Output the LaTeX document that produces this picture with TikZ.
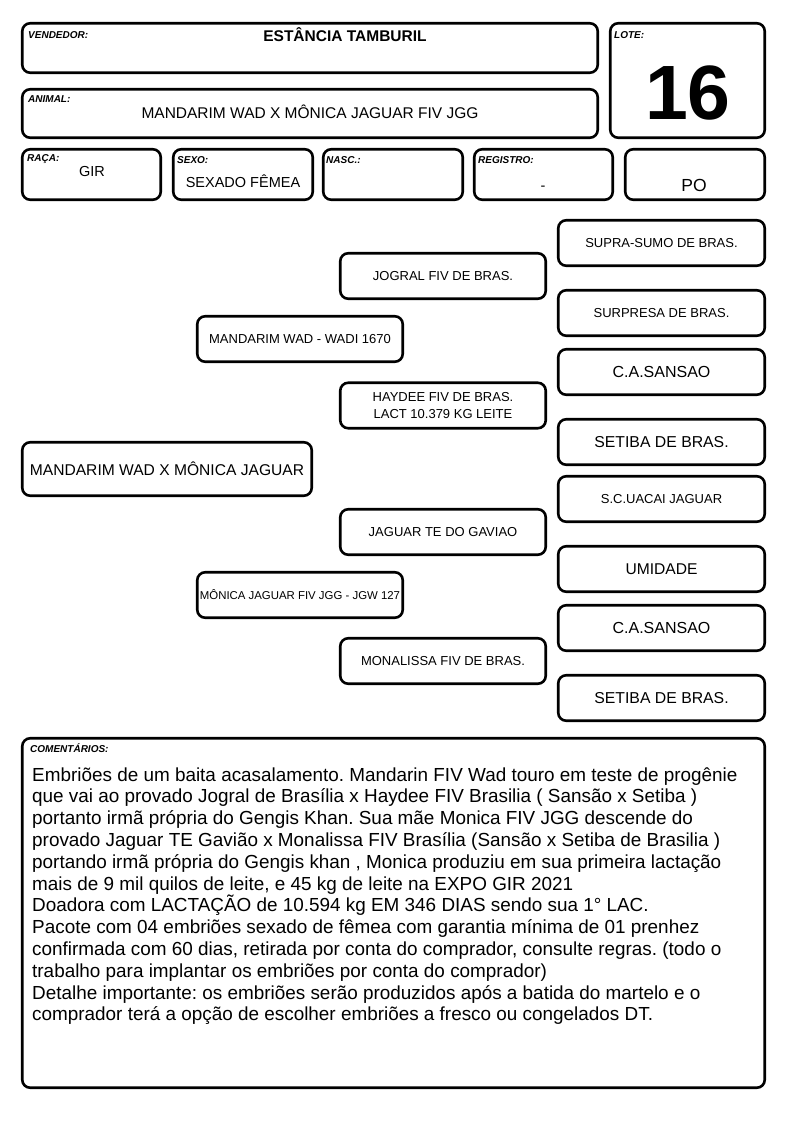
\documentclass[tikz,border=0pt]{standalone}
\usepackage{fontspec}
\setmainfont{Liberation Sans}
\frenchspacing
\begin{document}
\begin{tikzpicture}[x=1pt,y=-1pt,
    ficha/.style={draw,line width=2.6pt,rounded corners=8pt,inner sep=0pt},
    rotulo/.style={anchor=base west,inner sep=0pt,font=\fontsize{10}{12}\selectfont\bfseries\itshape},
    valor/.style={anchor=base,inner sep=0pt,font=\fontsize{14.5}{17}\selectfont},
    animal/.style={ficha,minimum width=#1,minimum height=45.5pt,align=center,font=\fontsize{13}{16.5}\selectfont}]
    \useasboundingbox (0,0) rectangle (794,1123);
    \node[ficha,minimum width=575.5pt,minimum height=49.5pt] (vendedor) at (310,48) {};
    \node[rotulo] (vendedorrot) at (28,39) {VENDEDOR:};
    \node[valor,font=\fontsize{15.5}{18}\selectfont\bfseries] (vendedornome) at (345,42) {ESTÂNCIA TAMBURIL};
    \node[ficha,minimum width=154.5pt,minimum height=114.5pt] (lote) at (687.5,80.5) {};
    \node[rotulo] (loterot) at (614,39) {LOTE:};
    \node[valor,font=\fontsize{77}{80}\selectfont\bfseries] (lotenum) at (688,120) {16};
    \node[ficha,minimum width=575.5pt,minimum height=48.5pt] (animal) at (310,113.5) {};
    \node[rotulo] (animalrot) at (28,103) {ANIMAL:};
    \node[valor,font=\fontsize{15.5}{18}\selectfont] (animalnome) at (310,119) {MANDARIM WAD X MÔNICA JAGUAR FIV JGG};
    \node[ficha,minimum width=138.5pt,minimum height=50.5pt] (raca) at (91.5,174.5) {};
    \node[rotulo] (racarot) at (27,162) {RAÇA:};
    \node[valor] (racanome) at (92,177) {GIR};
    \node[ficha,minimum width=139.5pt,minimum height=50.5pt] (sexo) at (243,174.5) {};
    \node[rotulo] (sexorot) at (177,164) {SEXO:};
    \node[valor] (sexonome) at (243,188) {SEXADO FÊMEA};
    \node[ficha,minimum width=139.5pt,minimum height=50.5pt] (nasc) at (393,174.5) {};
    \node[rotulo] (nascrot) at (326,164) {NASC.:};
    \node[ficha,minimum width=138.5pt,minimum height=50.5pt] (registro) at (543.5,174.5) {};
    \node[rotulo] (registrorot) at (478,164) {REGISTRO:};
    \node[valor] (registronum) at (543,191) {-};
    \node[ficha,minimum width=139.5pt,minimum height=50.5pt] (po) at (695,174.5) {};
    \node[valor,font=\fontsize{17.5}{20}\selectfont] (ponome) at (694,192) {PO};
    \node[animal=289.5pt,minimum height=53.5pt,font=\fontsize{15.6}{18}\selectfont] (produto) at (167,469) {MANDARIM WAD X MÔNICA JAGUAR};
    \node[animal=205.5pt] (pai) at (300,339) {MANDARIM WAD - WADI 1670};
    \node[animal=205.5pt,font=\fontsize{11.4}{14}\selectfont] (mae) at (300,595) {MÔNICA JAGUAR FIV JGG - JGW 127};
    \node[animal=205.5pt] (avopai) at (443,276) {JOGRAL FIV DE BRAS.};
    \node[animal=205.5pt] (avopaim) at (443,405.5) {HAYDEE FIV DE BRAS.\\LACT 10.379 KG LEITE};
    \node[animal=205.5pt] (avomae) at (443,532) {JAGUAR TE DO GAVIAO};
    \node[animal=205.5pt] (avomaem) at (443,661) {MONALISSA FIV DE BRAS.};
    \node[animal=206.5pt] (bisa1) at (661.5,243) {SUPRA-SUMO DE BRAS.};
    \node[animal=206.5pt] (bisa2) at (661.5,313) {SURPRESA DE BRAS.};
    \node[animal=206.5pt,font=\fontsize{16}{19}\selectfont] (bisa3) at (661.5,372) {C.A.SANSAO};
    \node[animal=206.5pt,font=\fontsize{15.8}{19}\selectfont] (bisa4) at (661.5,442) {SETIBA DE BRAS.};
    \node[animal=206.5pt] (bisa5) at (661.5,499) {S.C.UACAI JAGUAR};
    \node[animal=206.5pt,font=\fontsize{15.6}{19}\selectfont] (bisa6) at (661.5,569) {UMIDADE};
    \node[animal=206.5pt,font=\fontsize{16}{19}\selectfont] (bisa7) at (661.5,628) {C.A.SANSAO};
    \node[animal=206.5pt,font=\fontsize{15.8}{19}\selectfont] (bisa8) at (661.5,698) {SETIBA DE BRAS.};
    \node[ficha,minimum width=742.5pt,minimum height=349.5pt] (comentarios) at (393.5,913) {};
    \node[rotulo] (comentariosrot) at (30,752) {COMENTÁRIOS:};
    \node[anchor=base west,inner sep=0pt,align=left,font=\fontsize{18.9}{21.8}\selectfont] (comentariostxt) at (32,1020.8) {Embriões de um baita acasalamento. Mandarin FIV Wad touro em teste de progênie\\
        que vai ao provado Jogral de Brasília x Haydee FIV Brasilia ( Sansão x Setiba )\\
        portanto irmã própria do Gengis Khan. Sua mãe Monica FIV JGG descende do\\
        provado Jaguar TE Gavião x Monalissa FIV Brasília (Sansão x Setiba de Brasilia )\\
        portando irmã própria do Gengis khan , Monica produziu em sua primeira lactação\\
        mais de 9 mil quilos de leite, e 45 kg de leite na EXPO GIR 2021\\
        Doadora com LACTAÇÃO de 10.594 kg EM 346 DIAS sendo sua 1° LAC.\\
        Pacote com 04 embriões sexado de fêmea com garantia mínima de 01 prenhez\\
        confirmada com 60 dias, retirada por conta do comprador, consulte regras. (todo o\\
        trabalho para implantar os embriões por conta do comprador)\\
        Detalhe importante: os embriões serão produzidos após a batida do martelo e o\\
        comprador terá a opção de escolher embriões a fresco ou congelados DT.};
\end{tikzpicture}
\end{document}
